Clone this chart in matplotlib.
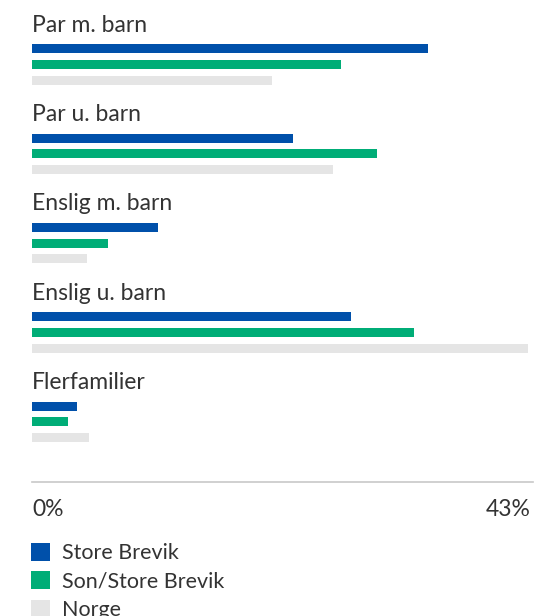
import numpy as np
import matplotlib.pyplot as plt
from matplotlib.patches import Patch

# Data (share of households, %)
categories = ['Par m. barn', 'Par u. barn', 'Enslig m. barn', 'Enslig u. barn', 'Flerfamilier']
series = ['Store Brevik', 'Son/Store Brevik', 'Norge']
store_brevik = [34.0, 22.4, 10.8, 27.4, 3.9]
son_store_brevik = [26.5, 29.6, 6.5, 32.8, 3.1]
norge = [20.6, 25.8, 4.7, 42.6, 4.9]
x_max = 43

colors = ['#0050AA', '#00AD77', '#E5E5E5']
text_col = '#333333'

plt.rcParams['font.family'] = ['Lato', 'DejaVu Sans']

W, H = 535, 616
fig = plt.figure(figsize=(W / 100, H / 100), dpi=100)

# axes: x from 32px to 533px, y from top to the axis line at ~482px
ax_left, ax_right, ax_bottom = 32, 533, 482
ax = fig.add_axes([ax_left / W, 1 - ax_bottom / H, (ax_right - ax_left) / W, ax_bottom / H])

# y in pixel-like units (top = 0)
group_pitch = 89.35
first = 48.8
offset = 15.7
bar_h = 9

values = [store_brevik, son_store_brevik, norge]
ypos = first + np.arange(len(categories)) * group_pitch
for j, vals in enumerate(values):
    ax.barh(ypos + j * offset, vals, height=bar_h, color=colors[j], label=series[j])

for i, cat in enumerate(categories):
    ax.text(0, ypos[i] - 17.1, cat, fontsize=16.5, color=text_col, va='baseline', ha='left')

ax.set_xlim(0, x_max)
ax.set_ylim(ax_bottom, 0)
for s in ['top', 'right', 'left']:
    ax.spines[s].set_visible(False)
ax.spines['bottom'].set_color('#C8C8C8')
ax.spines['bottom'].set_linewidth(1.2)
ax.set_xticks([])
ax.set_yticks([])

# axis end labels
fig.text(ax_left / W, 1 - 516 / H, '0%', fontsize=16.5, color=text_col, ha='left', va='baseline')
fig.text(531 / W, 1 - 516 / H, f'{x_max}%', fontsize=16.5, color=text_col, ha='right', va='baseline')

# legend
handles = [Patch(facecolor=c, edgecolor='none') for c in colors]
leg = fig.legend(handles, series, loc='upper left', bbox_to_anchor=(31 / W, 1 - 543 / H),
                 frameon=False, fontsize=15.5, borderpad=0, borderaxespad=0,
                 handlelength=0.88, handleheight=0.88, handletextpad=0.55, labelspacing=0.38)
for t in leg.get_texts():
    t.set_color(text_col)

fig.savefig('out.png', dpi=100)
